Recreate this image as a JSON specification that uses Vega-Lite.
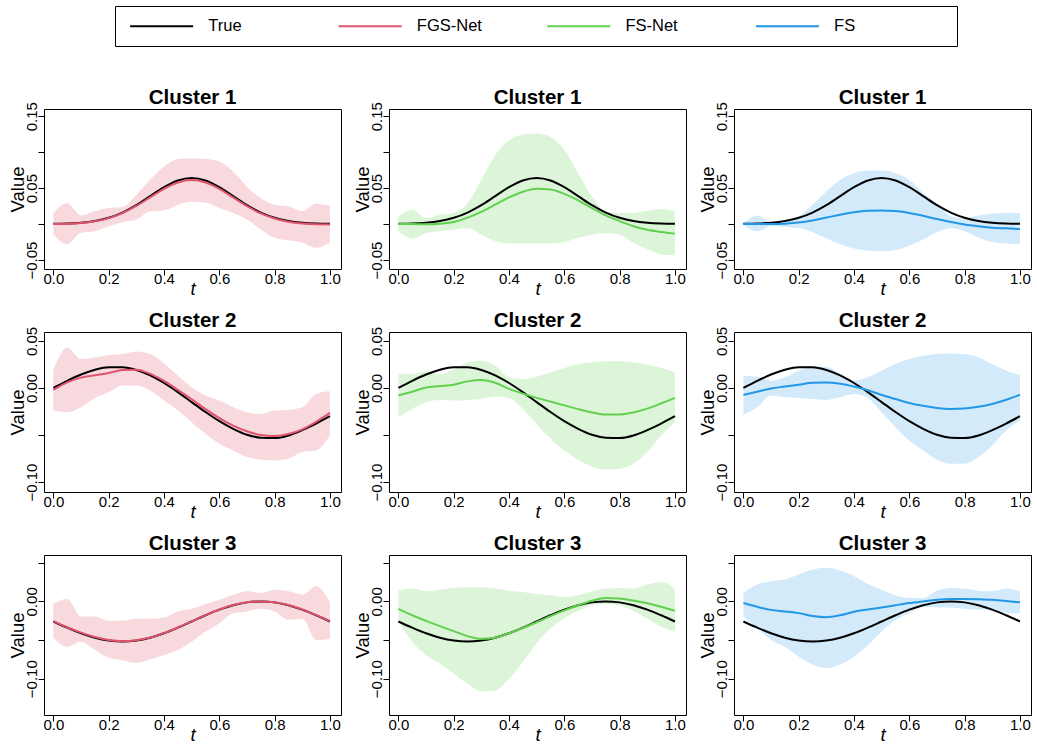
{
"$schema": "https://vega.github.io/schema/vega-lite/v6.json",
"background": "white",
"padding": {"left": 7, "top": 5, "right": 4, "bottom": 2},
"data": {"values": [
{"c":1,"m":"FGS-Net","t":0,"tr":0.0003,"e":0.0001,"lo":-0.0144,"hi":0.0155},
{"c":1,"m":"FGS-Net","t":0.05,"tr":0.0007,"e":0.0004,"lo":-0.028,"hi":0.029},
{"c":1,"m":"FGS-Net","t":0.1,"tr":0.0018,"e":0.0014,"lo":-0.012,"hi":0.012},
{"c":1,"m":"FGS-Net","t":0.15,"tr":0.0042,"e":0.0038,"lo":-0.010,"hi":0.018},
{"c":1,"m":"FGS-Net","t":0.2,"tr":0.0087,"e":0.0083,"lo":-0.003,"hi":0.0224},
{"c":1,"m":"FGS-Net","t":0.25,"tr":0.016,"e":0.0153,"lo":0.0026,"hi":0.0233},
{"c":1,"m":"FGS-Net","t":0.3,"tr":0.0263,"e":0.0252,"lo":0.0063,"hi":0.0408},
{"c":1,"m":"FGS-Net","t":0.35,"tr":0.0388,"e":0.0372,"lo":0.0178,"hi":0.0615},
{"c":1,"m":"FGS-Net","t":0.4,"tr":0.0512,"e":0.049,"lo":0.019,"hi":0.080},
{"c":1,"m":"FGS-Net","t":0.45,"tr":0.0605,"e":0.0578,"lo":0.027,"hi":0.0905},
{"c":1,"m":"FGS-Net","t":0.5,"tr":0.064,"e":0.0612,"lo":0.031,"hi":0.0914},
{"c":1,"m":"FGS-Net","t":0.55,"tr":0.0605,"e":0.0578,"lo":0.030,"hi":0.0905},
{"c":1,"m":"FGS-Net","t":0.6,"tr":0.0512,"e":0.049,"lo":0.0224,"hi":0.087},
{"c":1,"m":"FGS-Net","t":0.65,"tr":0.0388,"e":0.037,"lo":0.0155,"hi":0.073},
{"c":1,"m":"FGS-Net","t":0.7,"tr":0.0263,"e":0.0248,"lo":0.0063,"hi":0.052},
{"c":1,"m":"FGS-Net","t":0.75,"tr":0.016,"e":0.0148,"lo":-0.0075,"hi":0.036},
{"c":1,"m":"FGS-Net","t":0.8,"tr":0.0087,"e":0.0077,"lo":-0.019,"hi":0.027},
{"c":1,"m":"FGS-Net","t":0.85,"tr":0.0042,"e":0.0032,"lo":-0.0226,"hi":0.0247},
{"c":1,"m":"FGS-Net","t":0.9,"tr":0.0018,"e":0.0008,"lo":-0.026,"hi":0.018},
{"c":1,"m":"FGS-Net","t":0.95,"tr":0.0007,"e":-0.0003,"lo":-0.033,"hi":0.0284},
{"c":1,"m":"FGS-Net","t":1,"tr":0.0003,"e":-0.0005,"lo":-0.026,"hi":0.0256},
{"c":1,"m":"FS-Net","t":0,"tr":0.0003,"e":0,"lo":-0.010,"hi":0.0106},
{"c":1,"m":"FS-Net","t":0.05,"tr":0.0007,"e":0,"lo":-0.020,"hi":0.020},
{"c":1,"m":"FS-Net","t":0.1,"tr":0.0018,"e":-0.0002,"lo":-0.0124,"hi":0.0083},
{"c":1,"m":"FS-Net","t":0.15,"tr":0.0042,"e":0.0005,"lo":-0.010,"hi":0.013},
{"c":1,"m":"FS-Net","t":0.2,"tr":0.0087,"e":0.003,"lo":-0.0078,"hi":0.0155},
{"c":1,"m":"FS-Net","t":0.25,"tr":0.016,"e":0.009,"lo":-0.0055,"hi":0.029},
{"c":1,"m":"FS-Net","t":0.3,"tr":0.0263,"e":0.017,"lo":-0.0147,"hi":0.0615},
{"c":1,"m":"FS-Net","t":0.35,"tr":0.0388,"e":0.027,"lo":-0.0236,"hi":0.096},
{"c":1,"m":"FS-Net","t":0.4,"tr":0.0512,"e":0.037,"lo":-0.027,"hi":0.1167},
{"c":1,"m":"FS-Net","t":0.45,"tr":0.0605,"e":0.045,"lo":-0.027,"hi":0.1245},
{"c":1,"m":"FS-Net","t":0.5,"tr":0.064,"e":0.049,"lo":-0.027,"hi":0.126},
{"c":1,"m":"FS-Net","t":0.55,"tr":0.0605,"e":0.048,"lo":-0.027,"hi":0.121},
{"c":1,"m":"FS-Net","t":0.6,"tr":0.0512,"e":0.042,"lo":-0.025,"hi":0.103},
{"c":1,"m":"FS-Net","t":0.65,"tr":0.0388,"e":0.033,"lo":-0.019,"hi":0.0707},
{"c":1,"m":"FS-Net","t":0.7,"tr":0.0263,"e":0.022,"lo":-0.0147,"hi":0.0385},
{"c":1,"m":"FS-Net","t":0.75,"tr":0.016,"e":0.012,"lo":-0.0124,"hi":0.0175},
{"c":1,"m":"FS-Net","t":0.8,"tr":0.0087,"e":0.004,"lo":-0.0147,"hi":0.0155},
{"c":1,"m":"FS-Net","t":0.85,"tr":0.0042,"e":-0.003,"lo":-0.026,"hi":0.0155},
{"c":1,"m":"FS-Net","t":0.9,"tr":0.0018,"e":-0.008,"lo":-0.035,"hi":0.0184},
{"c":1,"m":"FS-Net","t":0.95,"tr":0.0007,"e":-0.011,"lo":-0.042,"hi":0.0211},
{"c":1,"m":"FS-Net","t":1,"tr":0.0003,"e":-0.0133,"lo":-0.0433,"hi":0.0175},
{"c":1,"m":"FS","t":0,"tr":0.0003,"e":0,"lo":-0.001,"hi":0.001},
{"c":1,"m":"FS","t":0.05,"tr":0.0007,"e":0,"lo":-0.010,"hi":0.0118},
{"c":1,"m":"FS","t":0.1,"tr":0.0018,"e":0,"lo":-0.003,"hi":0.0026},
{"c":1,"m":"FS","t":0.15,"tr":0.0042,"e":0.0005,"lo":-0.004,"hi":0.004},
{"c":1,"m":"FS","t":0.2,"tr":0.0087,"e":0.002,"lo":-0.0055,"hi":0.011},
{"c":1,"m":"FS","t":0.25,"tr":0.016,"e":0.005,"lo":-0.0115,"hi":0.027},
{"c":1,"m":"FS","t":0.3,"tr":0.0263,"e":0.009,"lo":-0.020,"hi":0.0454},
{"c":1,"m":"FS","t":0.35,"tr":0.0388,"e":0.013,"lo":-0.028,"hi":0.0615},
{"c":1,"m":"FS","t":0.4,"tr":0.0512,"e":0.0165,"lo":-0.034,"hi":0.0707},
{"c":1,"m":"FS","t":0.45,"tr":0.0605,"e":0.0185,"lo":-0.037,"hi":0.0744},
{"c":1,"m":"FS","t":0.5,"tr":0.064,"e":0.019,"lo":-0.038,"hi":0.0744},
{"c":1,"m":"FS","t":0.55,"tr":0.0605,"e":0.018,"lo":-0.036,"hi":0.0707},
{"c":1,"m":"FS","t":0.6,"tr":0.0512,"e":0.0155,"lo":-0.030,"hi":0.0615},
{"c":1,"m":"FS","t":0.65,"tr":0.0388,"e":0.0115,"lo":-0.0216,"hi":0.043},
{"c":1,"m":"FS","t":0.7,"tr":0.0263,"e":0.007,"lo":-0.0115,"hi":0.0284},
{"c":1,"m":"FS","t":0.75,"tr":0.016,"e":0.003,"lo":-0.0055,"hi":0.011},
{"c":1,"m":"FS","t":0.8,"tr":0.0087,"e":-0.0005,"lo":-0.010,"hi":0.0083},
{"c":1,"m":"FS","t":0.85,"tr":0.0042,"e":-0.003,"lo":-0.019,"hi":0.0118},
{"c":1,"m":"FS","t":0.9,"tr":0.0018,"e":-0.005,"lo":-0.025,"hi":0.0146},
{"c":1,"m":"FS","t":0.95,"tr":0.0007,"e":-0.006,"lo":-0.027,"hi":0.0155},
{"c":1,"m":"FS","t":1,"tr":0.0003,"e":-0.007,"lo":-0.028,"hi":0.0155},
{"c":2,"m":"FGS-Net","t":0,"tr":0,"e":-0.002,"lo":-0.024,"hi":0.0191},
{"c":2,"m":"FGS-Net","t":0.05,"tr":0.0076,"e":0.006,"lo":-0.0258,"hi":0.0431},
{"c":2,"m":"FGS-Net","t":0.1,"tr":0.0143,"e":0.011,"lo":-0.0205,"hi":0.0307},
{"c":2,"m":"FGS-Net","t":0.15,"tr":0.0194,"e":0.0135,"lo":-0.0106,"hi":0.0325},
{"c":2,"m":"FGS-Net","t":0.2,"tr":0.0221,"e":0.016,"lo":-0.0046,"hi":0.035},
{"c":2,"m":"FGS-Net","t":0.25,"tr":0.022,"e":0.019,"lo":0.0025,"hi":0.036},
{"c":2,"m":"FGS-Net","t":0.3,"tr":0.0191,"e":0.0195,"lo":0.0025,"hi":0.0389},
{"c":2,"m":"FGS-Net","t":0.35,"tr":0.0134,"e":0.015,"lo":-0.003,"hi":0.036},
{"c":2,"m":"FGS-Net","t":0.4,"tr":0.0053,"e":0.0075,"lo":-0.0134,"hi":0.026},
{"c":2,"m":"FGS-Net","t":0.45,"tr":-0.0044,"e":-0.002,"lo":-0.024,"hi":0.0131},
{"c":2,"m":"FGS-Net","t":0.5,"tr":-0.015,"e":-0.012,"lo":-0.0364,"hi":0.0007},
{"c":2,"m":"FGS-Net","t":0.55,"tr":-0.0256,"e":-0.0225,"lo":-0.0488,"hi":-0.0081},
{"c":2,"m":"FGS-Net","t":0.6,"tr":-0.0353,"e":-0.032,"lo":-0.0594,"hi":-0.0134},
{"c":2,"m":"FGS-Net","t":0.65,"tr":-0.0434,"e":-0.040,"lo":-0.0664,"hi":-0.0205},
{"c":2,"m":"FGS-Net","t":0.7,"tr":-0.0497,"e":-0.046,"lo":-0.0735,"hi":-0.0258},
{"c":2,"m":"FGS-Net","t":0.75,"tr":-0.0528,"e":-0.050,"lo":-0.0763,"hi":-0.0276},
{"c":2,"m":"FGS-Net","t":0.8,"tr":-0.0532,"e":-0.051,"lo":-0.077,"hi":-0.024},
{"c":2,"m":"FGS-Net","t":0.85,"tr":-0.0505,"e":-0.049,"lo":-0.0753,"hi":-0.0233},
{"c":2,"m":"FGS-Net","t":0.9,"tr":-0.0448,"e":-0.044,"lo":-0.0682,"hi":-0.0205},
{"c":2,"m":"FGS-Net","t":0.95,"tr":-0.0378,"e":-0.036,"lo":-0.0664,"hi":-0.0064},
{"c":2,"m":"FGS-Net","t":1,"tr":-0.030,"e":-0.0265,"lo":-0.0505,"hi":-0.0035},
{"c":2,"m":"FS-Net","t":0,"tr":0,"e":-0.008,"lo":-0.031,"hi":0.0155},
{"c":2,"m":"FS-Net","t":0.05,"tr":0.0076,"e":-0.004,"lo":-0.0223,"hi":0.0148},
{"c":2,"m":"FS-Net","t":0.1,"tr":0.0143,"e":0.0005,"lo":-0.0152,"hi":0.0177},
{"c":2,"m":"FS-Net","t":0.15,"tr":0.0194,"e":0.002,"lo":-0.0127,"hi":0.0148},
{"c":2,"m":"FS-Net","t":0.2,"tr":0.0221,"e":0.0035,"lo":-0.0134,"hi":0.020},
{"c":2,"m":"FS-Net","t":0.25,"tr":0.022,"e":0.007,"lo":-0.0127,"hi":0.027},
{"c":2,"m":"FS-Net","t":0.3,"tr":0.0191,"e":0.0085,"lo":-0.0117,"hi":0.029},
{"c":2,"m":"FS-Net","t":0.35,"tr":0.0134,"e":0.0055,"lo":-0.0092,"hi":0.0237},
{"c":2,"m":"FS-Net","t":0.4,"tr":0.0053,"e":-0.001,"lo":-0.0106,"hi":0.0113},
{"c":2,"m":"FS-Net","t":0.45,"tr":-0.0044,"e":-0.006,"lo":-0.0223,"hi":0.0095},
{"c":2,"m":"FS-Net","t":0.5,"tr":-0.015,"e":-0.0105,"lo":-0.0382,"hi":0.012},
{"c":2,"m":"FS-Net","t":0.55,"tr":-0.0256,"e":-0.0145,"lo":-0.054,"hi":0.0166},
{"c":2,"m":"FS-Net","t":0.6,"tr":-0.0353,"e":-0.0185,"lo":-0.0664,"hi":0.0212},
{"c":2,"m":"FS-Net","t":0.65,"tr":-0.0434,"e":-0.0225,"lo":-0.0763,"hi":0.0254},
{"c":2,"m":"FS-Net","t":0.7,"tr":-0.0497,"e":-0.026,"lo":-0.0834,"hi":0.027},
{"c":2,"m":"FS-Net","t":0.75,"tr":-0.0528,"e":-0.0283,"lo":-0.087,"hi":0.0283},
{"c":2,"m":"FS-Net","t":0.8,"tr":-0.0532,"e":-0.0283,"lo":-0.0859,"hi":0.0283},
{"c":2,"m":"FS-Net","t":0.85,"tr":-0.0505,"e":-0.026,"lo":-0.0806,"hi":0.027},
{"c":2,"m":"FS-Net","t":0.9,"tr":-0.0448,"e":-0.022,"lo":-0.0682,"hi":0.0247},
{"c":2,"m":"FS-Net","t":0.95,"tr":-0.0378,"e":-0.0165,"lo":-0.0505,"hi":0.0212},
{"c":2,"m":"FS-Net","t":1,"tr":-0.030,"e":-0.0105,"lo":-0.0364,"hi":0.0166},
{"c":2,"m":"FS","t":0,"tr":0,"e":-0.0074,"lo":-0.0283,"hi":0.0131},
{"c":2,"m":"FS","t":0.05,"tr":0.0076,"e":-0.004,"lo":-0.0205,"hi":0.012},
{"c":2,"m":"FS","t":0.1,"tr":0.0143,"e":-0.0005,"lo":-0.0081,"hi":0.0078},
{"c":2,"m":"FS","t":0.15,"tr":0.0194,"e":0.0015,"lo":-0.0099,"hi":0.0113},
{"c":2,"m":"FS","t":0.2,"tr":0.0221,"e":0.0035,"lo":-0.0106,"hi":0.0184},
{"c":2,"m":"FS","t":0.25,"tr":0.022,"e":0.0055,"lo":-0.0117,"hi":0.0226},
{"c":2,"m":"FS","t":0.3,"tr":0.0191,"e":0.0058,"lo":-0.0127,"hi":0.0226},
{"c":2,"m":"FS","t":0.35,"tr":0.0134,"e":0.0045,"lo":-0.0099,"hi":0.0148},
{"c":2,"m":"FS","t":0.4,"tr":0.0053,"e":0.0015,"lo":-0.0064,"hi":0.0078},
{"c":2,"m":"FS","t":0.45,"tr":-0.0044,"e":-0.0025,"lo":-0.0106,"hi":0.0113},
{"c":2,"m":"FS","t":0.5,"tr":-0.015,"e":-0.0075,"lo":-0.0258,"hi":0.0184},
{"c":2,"m":"FS","t":0.55,"tr":-0.0256,"e":-0.0118,"lo":-0.0417,"hi":0.0254},
{"c":2,"m":"FS","t":0.6,"tr":-0.0353,"e":-0.016,"lo":-0.0558,"hi":0.0307},
{"c":2,"m":"FS","t":0.65,"tr":-0.0434,"e":-0.019,"lo":-0.0664,"hi":0.0343},
{"c":2,"m":"FS","t":0.7,"tr":-0.0497,"e":-0.0212,"lo":-0.0763,"hi":0.036},
{"c":2,"m":"FS","t":0.75,"tr":-0.0528,"e":-0.0223,"lo":-0.0806,"hi":0.0367},
{"c":2,"m":"FS","t":0.8,"tr":-0.0532,"e":-0.0218,"lo":-0.0806,"hi":0.036},
{"c":2,"m":"FS","t":0.85,"tr":-0.0505,"e":-0.020,"lo":-0.0735,"hi":0.0325},
{"c":2,"m":"FS","t":0.9,"tr":-0.0448,"e":-0.017,"lo":-0.0611,"hi":0.0254},
{"c":2,"m":"FS","t":0.95,"tr":-0.0378,"e":-0.0125,"lo":-0.0452,"hi":0.0184},
{"c":2,"m":"FS","t":1,"tr":-0.030,"e":-0.0072,"lo":-0.0346,"hi":0.0141},
{"c":3,"m":"FGS-Net","t":0,"tr":-0.026,"e":-0.0255,"lo":-0.047,"hi":-0.0035},
{"c":3,"m":"FGS-Net","t":0.05,"tr":-0.034,"e":-0.0335,"lo":-0.0587,"hi":0.0035},
{"c":3,"m":"FGS-Net","t":0.1,"tr":-0.0413,"e":-0.0405,"lo":-0.0522,"hi":-0.0196},
{"c":3,"m":"FGS-Net","t":0.15,"tr":-0.047,"e":-0.0462,"lo":-0.063,"hi":-0.0196},
{"c":3,"m":"FGS-Net","t":0.2,"tr":-0.0507,"e":-0.050,"lo":-0.073,"hi":-0.0252},
{"c":3,"m":"FGS-Net","t":0.25,"tr":-0.052,"e":-0.0515,"lo":-0.0761,"hi":-0.0252},
{"c":3,"m":"FGS-Net","t":0.3,"tr":-0.0507,"e":-0.0503,"lo":-0.0796,"hi":-0.0226},
{"c":3,"m":"FGS-Net","t":0.35,"tr":-0.047,"e":-0.0468,"lo":-0.0748,"hi":-0.0226},
{"c":3,"m":"FGS-Net","t":0.4,"tr":-0.0413,"e":-0.041,"lo":-0.0696,"hi":-0.0209},
{"c":3,"m":"FGS-Net","t":0.45,"tr":-0.034,"e":-0.0338,"lo":-0.063,"hi":-0.013},
{"c":3,"m":"FGS-Net","t":0.5,"tr":-0.026,"e":-0.0258,"lo":-0.0522,"hi":-0.0096},
{"c":3,"m":"FGS-Net","t":0.55,"tr":-0.018,"e":-0.0178,"lo":-0.0391,"hi":-0.0035},
{"c":3,"m":"FGS-Net","t":0.6,"tr":-0.0107,"e":-0.0105,"lo":-0.0283,"hi":0.0022},
{"c":3,"m":"FGS-Net","t":0.65,"tr":-0.005,"e":-0.0048,"lo":-0.0152,"hi":0.0087},
{"c":3,"m":"FGS-Net","t":0.7,"tr":-0.0013,"e":-0.0012,"lo":-0.013,"hi":0.013},
{"c":3,"m":"FGS-Net","t":0.75,"tr":0,"e":0,"lo":-0.0096,"hi":0.0109},
{"c":3,"m":"FGS-Net","t":0.8,"tr":-0.0013,"e":-0.0012,"lo":-0.013,"hi":0.0152},
{"c":3,"m":"FGS-Net","t":0.85,"tr":-0.005,"e":-0.0048,"lo":-0.0239,"hi":0.013},
{"c":3,"m":"FGS-Net","t":0.9,"tr":-0.0107,"e":-0.0104,"lo":-0.0226,"hi":0.0087},
{"c":3,"m":"FGS-Net","t":0.95,"tr":-0.018,"e":-0.0177,"lo":-0.050,"hi":0.0196},
{"c":3,"m":"FGS-Net","t":1,"tr":-0.026,"e":-0.0256,"lo":-0.0487,"hi":-0.0009},
{"c":3,"m":"FS-Net","t":0,"tr":-0.026,"e":-0.0096,"lo":-0.0261,"hi":0.0139},
{"c":3,"m":"FS-Net","t":0.05,"tr":-0.034,"e":-0.018,"lo":-0.0522,"hi":0.0165},
{"c":3,"m":"FS-Net","t":0.1,"tr":-0.0413,"e":-0.0252,"lo":-0.0696,"hi":0.013},
{"c":3,"m":"FS-Net","t":0.15,"tr":-0.047,"e":-0.032,"lo":-0.0804,"hi":0.0152},
{"c":3,"m":"FS-Net","t":0.2,"tr":-0.0507,"e":-0.0385,"lo":-0.0935,"hi":0.0174},
{"c":3,"m":"FS-Net","t":0.25,"tr":-0.052,"e":-0.045,"lo":-0.1065,"hi":0.0183},
{"c":3,"m":"FS-Net","t":0.3,"tr":-0.0507,"e":-0.0485,"lo":-0.1165,"hi":0.0183},
{"c":3,"m":"FS-Net","t":0.35,"tr":-0.047,"e":-0.047,"lo":-0.1152,"hi":0.0165},
{"c":3,"m":"FS-Net","t":0.4,"tr":-0.0413,"e":-0.0413,"lo":-0.10,"hi":0.0139},
{"c":3,"m":"FS-Net","t":0.45,"tr":-0.034,"e":-0.0345,"lo":-0.0783,"hi":0.0122},
{"c":3,"m":"FS-Net","t":0.5,"tr":-0.026,"e":-0.027,"lo":-0.0543,"hi":0.0096},
{"c":3,"m":"FS-Net","t":0.55,"tr":-0.018,"e":-0.019,"lo":-0.0348,"hi":0.0078},
{"c":3,"m":"FS-Net","t":0.6,"tr":-0.0107,"e":-0.0117,"lo":-0.0217,"hi":0.0057},
{"c":3,"m":"FS-Net","t":0.65,"tr":-0.005,"e":-0.005,"lo":-0.0122,"hi":0.0078},
{"c":3,"m":"FS-Net","t":0.7,"tr":-0.0013,"e":0.0009,"lo":-0.0052,"hi":0.013},
{"c":3,"m":"FS-Net","t":0.75,"tr":0,"e":0.0043,"lo":-0.0035,"hi":0.0165},
{"c":3,"m":"FS-Net","t":0.8,"tr":-0.0013,"e":0.0038,"lo":-0.0052,"hi":0.0174},
{"c":3,"m":"FS-Net","t":0.85,"tr":-0.005,"e":0.001,"lo":-0.0122,"hi":0.0165},
{"c":3,"m":"FS-Net","t":0.9,"tr":-0.0107,"e":-0.0025,"lo":-0.0226,"hi":0.0217},
{"c":3,"m":"FS-Net","t":0.95,"tr":-0.018,"e":-0.007,"lo":-0.0326,"hi":0.0252},
{"c":3,"m":"FS-Net","t":1,"tr":-0.026,"e":-0.0122,"lo":-0.0391,"hi":0.0165},
{"c":3,"m":"FS","t":0,"tr":-0.026,"e":-0.0022,"lo":-0.0196,"hi":0.0109},
{"c":3,"m":"FS","t":0.05,"tr":-0.034,"e":-0.007,"lo":-0.0348,"hi":0.0217},
{"c":3,"m":"FS","t":0.1,"tr":-0.0413,"e":-0.011,"lo":-0.050,"hi":0.0261},
{"c":3,"m":"FS","t":0.15,"tr":-0.047,"e":-0.013,"lo":-0.0587,"hi":0.0283},
{"c":3,"m":"FS","t":0.2,"tr":-0.0507,"e":-0.0152,"lo":-0.0717,"hi":0.0348},
{"c":3,"m":"FS","t":0.25,"tr":-0.052,"e":-0.019,"lo":-0.0817,"hi":0.0413},
{"c":3,"m":"FS","t":0.3,"tr":-0.0507,"e":-0.0205,"lo":-0.0861,"hi":0.0435},
{"c":3,"m":"FS","t":0.35,"tr":-0.047,"e":-0.018,"lo":-0.0817,"hi":0.040},
{"c":3,"m":"FS","t":0.4,"tr":-0.0413,"e":-0.0135,"lo":-0.0717,"hi":0.0326},
{"c":3,"m":"FS","t":0.45,"tr":-0.034,"e":-0.0105,"lo":-0.0565,"hi":0.0226},
{"c":3,"m":"FS","t":0.5,"tr":-0.026,"e":-0.008,"lo":-0.0391,"hi":0.0152},
{"c":3,"m":"FS","t":0.55,"tr":-0.018,"e":-0.005,"lo":-0.0239,"hi":0.0078},
{"c":3,"m":"FS","t":0.6,"tr":-0.0107,"e":-0.0022,"lo":-0.0152,"hi":0.0043},
{"c":3,"m":"FS","t":0.65,"tr":-0.005,"e":0,"lo":-0.0065,"hi":0.0043},
{"c":3,"m":"FS","t":0.7,"tr":-0.0013,"e":0.002,"lo":-0.0078,"hi":0.0139},
{"c":3,"m":"FS","t":0.75,"tr":0,"e":0.003,"lo":-0.0078,"hi":0.0174},
{"c":3,"m":"FS","t":0.8,"tr":-0.0013,"e":0.003,"lo":-0.0096,"hi":0.0165},
{"c":3,"m":"FS","t":0.85,"tr":-0.005,"e":0.0027,"lo":-0.0109,"hi":0.0139},
{"c":3,"m":"FS","t":0.9,"tr":-0.0107,"e":0.002,"lo":-0.0096,"hi":0.013},
{"c":3,"m":"FS","t":0.95,"tr":-0.018,"e":0.0005,"lo":-0.0152,"hi":0.0165},
{"c":3,"m":"FS","t":1,"tr":-0.026,"e":-0.0013,"lo":-0.0152,"hi":0.013}
]},
"columns": 3,
"spacing": {"row": 63, "column": 48},
"bounds": "flush",
"resolve": {"scale": {"x": "independent", "y": "independent", "color": "shared"}, "legend": {"color": "shared"}},
"concat": [
{"title": {"text": "Cluster 1", "offset": -7}, "width": 297, "height": 160,
 "transform": [{"filter": "datum.c == 1 && datum.m == 'FGS-Net'"}],
 "encoding": {"x": {"field": "t", "type": "quantitative", "scale": {"domain": [-0.034, 1.04], "nice": false, "zero": false}, "axis": {"title": "t", "values": [0, 0.2, 0.4, 0.6, 0.8, 1], "format": ".1f"}}},
 "layer": [
  {"mark": {"type": "area", "color": "#DF536B", "opacity": 0.22, "interpolate": "monotone"},
   "encoding": {"y": {"field": "lo", "type": "quantitative", "scale": {"domain": [-0.0625, 0.16], "nice": false, "zero": false}, "axis": {"title": "Value", "values": [-0.05, 0, 0.05, 0.1, 0.15], "format": ".2f", "labelExpr": "round(datum.value*100) % 10 != 0 ? datum.label : ''"}}, "y2": {"field": "hi"}}},
  {"mark": {"type": "line", "strokeWidth": 2, "interpolate": "monotone"},
   "encoding": {"y": {"field": "tr", "type": "quantitative", "scale": {"domain": [-0.0625, 0.16], "nice": false, "zero": false}, "axis": {"title": "Value", "values": [-0.05, 0, 0.05, 0.1, 0.15], "format": ".2f", "labelExpr": "round(datum.value*100) % 10 != 0 ? datum.label : ''"}},
    "color": {"datum": "True", "type": "nominal", "scale": {"domain": ["True", "FGS-Net", "FS-Net", "FS"], "range": ["#000000", "#DF536B", "#61D04F", "#2297E6"]}, "legend": {"title": null, "orient": "none", "legendX": 71, "legendY": -103, "columns": 4, "gridAlign": "all", "columnPadding": 14.6, "symbolType": "M-0.62,0H7.38", "symbolSize": 248, "symbolStrokeWidth": 2, "labelFontSize": 16.5, "labelOffset": 64.25, "padding": 11, "strokeColor": "#000000", "labelExpr": "datum.label == 'FS' ? 'FS\u00a0\u00a0\u00a0\u00a0\u00a0\u00a0\u00a0\u00a0\u00a0\u00a0\u00a0\u00a0\u00a0\u00a0\u00a0\u00a0\u00a0\u00a0\u00a0\u2009\u200b' : datum.label"}}}},
  {"mark": {"type": "line", "strokeWidth": 2, "interpolate": "monotone"},
   "encoding": {"y": {"field": "e", "type": "quantitative", "scale": {"domain": [-0.0625, 0.16], "nice": false, "zero": false}, "axis": {"title": "Value", "values": [-0.05, 0, 0.05, 0.1, 0.15], "format": ".2f", "labelExpr": "round(datum.value*100) % 10 != 0 ? datum.label : ''"}},
    "color": {"field": "m", "type": "nominal", "scale": {"domain": ["True", "FGS-Net", "FS-Net", "FS"], "range": ["#000000", "#DF536B", "#61D04F", "#2297E6"]}, "legend": {"title": null, "orient": "none", "legendX": 71, "legendY": -103, "columns": 4, "gridAlign": "all", "columnPadding": 14.6, "symbolType": "M-0.62,0H7.38", "symbolSize": 248, "symbolStrokeWidth": 2, "labelFontSize": 16.5, "labelOffset": 64.25, "padding": 11, "strokeColor": "#000000", "labelExpr": "datum.label == 'FS' ? 'FS\u00a0\u00a0\u00a0\u00a0\u00a0\u00a0\u00a0\u00a0\u00a0\u00a0\u00a0\u00a0\u00a0\u00a0\u00a0\u00a0\u00a0\u00a0\u00a0\u2009\u200b' : datum.label"}}}}
 ]},
{"title": {"text": "Cluster 1", "offset": -7}, "width": 297, "height": 160,
 "transform": [{"filter": "datum.c == 1 && datum.m == 'FS-Net'"}],
 "encoding": {"x": {"field": "t", "type": "quantitative", "scale": {"domain": [-0.034, 1.04], "nice": false, "zero": false}, "axis": {"title": "t", "values": [0, 0.2, 0.4, 0.6, 0.8, 1], "format": ".1f"}}},
 "layer": [
  {"mark": {"type": "area", "color": "#61D04F", "opacity": 0.22, "interpolate": "monotone"},
   "encoding": {"y": {"field": "lo", "type": "quantitative", "scale": {"domain": [-0.0625, 0.16], "nice": false, "zero": false}, "axis": {"title": "Value", "values": [-0.05, 0, 0.05, 0.1, 0.15], "format": ".2f", "labelExpr": "round(datum.value*100) % 10 != 0 ? datum.label : ''"}}, "y2": {"field": "hi"}}},
  {"mark": {"type": "line", "strokeWidth": 2, "interpolate": "monotone"},
   "encoding": {"y": {"field": "tr", "type": "quantitative", "scale": {"domain": [-0.0625, 0.16], "nice": false, "zero": false}, "axis": {"title": "Value", "values": [-0.05, 0, 0.05, 0.1, 0.15], "format": ".2f", "labelExpr": "round(datum.value*100) % 10 != 0 ? datum.label : ''"}},
    "color": {"datum": "True", "type": "nominal", "scale": {"domain": ["True", "FGS-Net", "FS-Net", "FS"], "range": ["#000000", "#DF536B", "#61D04F", "#2297E6"]}, "legend": {"title": null, "orient": "none", "legendX": 71, "legendY": -103, "columns": 4, "gridAlign": "all", "columnPadding": 14.6, "symbolType": "M-0.62,0H7.38", "symbolSize": 248, "symbolStrokeWidth": 2, "labelFontSize": 16.5, "labelOffset": 64.25, "padding": 11, "strokeColor": "#000000", "labelExpr": "datum.label == 'FS' ? 'FS\u00a0\u00a0\u00a0\u00a0\u00a0\u00a0\u00a0\u00a0\u00a0\u00a0\u00a0\u00a0\u00a0\u00a0\u00a0\u00a0\u00a0\u00a0\u00a0\u2009\u200b' : datum.label"}}}},
  {"mark": {"type": "line", "strokeWidth": 2, "interpolate": "monotone"},
   "encoding": {"y": {"field": "e", "type": "quantitative", "scale": {"domain": [-0.0625, 0.16], "nice": false, "zero": false}, "axis": {"title": "Value", "values": [-0.05, 0, 0.05, 0.1, 0.15], "format": ".2f", "labelExpr": "round(datum.value*100) % 10 != 0 ? datum.label : ''"}},
    "color": {"field": "m", "type": "nominal", "scale": {"domain": ["True", "FGS-Net", "FS-Net", "FS"], "range": ["#000000", "#DF536B", "#61D04F", "#2297E6"]}, "legend": {"title": null, "orient": "none", "legendX": 71, "legendY": -103, "columns": 4, "gridAlign": "all", "columnPadding": 14.6, "symbolType": "M-0.62,0H7.38", "symbolSize": 248, "symbolStrokeWidth": 2, "labelFontSize": 16.5, "labelOffset": 64.25, "padding": 11, "strokeColor": "#000000", "labelExpr": "datum.label == 'FS' ? 'FS\u00a0\u00a0\u00a0\u00a0\u00a0\u00a0\u00a0\u00a0\u00a0\u00a0\u00a0\u00a0\u00a0\u00a0\u00a0\u00a0\u00a0\u00a0\u00a0\u2009\u200b' : datum.label"}}}}
 ]},
{"title": {"text": "Cluster 1", "offset": -7}, "width": 297, "height": 160,
 "transform": [{"filter": "datum.c == 1 && datum.m == 'FS'"}],
 "encoding": {"x": {"field": "t", "type": "quantitative", "scale": {"domain": [-0.034, 1.04], "nice": false, "zero": false}, "axis": {"title": "t", "values": [0, 0.2, 0.4, 0.6, 0.8, 1], "format": ".1f"}}},
 "layer": [
  {"mark": {"type": "area", "color": "#2297E6", "opacity": 0.2, "interpolate": "monotone"},
   "encoding": {"y": {"field": "lo", "type": "quantitative", "scale": {"domain": [-0.0625, 0.16], "nice": false, "zero": false}, "axis": {"title": "Value", "values": [-0.05, 0, 0.05, 0.1, 0.15], "format": ".2f", "labelExpr": "round(datum.value*100) % 10 != 0 ? datum.label : ''"}}, "y2": {"field": "hi"}}},
  {"mark": {"type": "line", "strokeWidth": 2, "interpolate": "monotone"},
   "encoding": {"y": {"field": "tr", "type": "quantitative", "scale": {"domain": [-0.0625, 0.16], "nice": false, "zero": false}, "axis": {"title": "Value", "values": [-0.05, 0, 0.05, 0.1, 0.15], "format": ".2f", "labelExpr": "round(datum.value*100) % 10 != 0 ? datum.label : ''"}},
    "color": {"datum": "True", "type": "nominal", "scale": {"domain": ["True", "FGS-Net", "FS-Net", "FS"], "range": ["#000000", "#DF536B", "#61D04F", "#2297E6"]}, "legend": {"title": null, "orient": "none", "legendX": 71, "legendY": -103, "columns": 4, "gridAlign": "all", "columnPadding": 14.6, "symbolType": "M-0.62,0H7.38", "symbolSize": 248, "symbolStrokeWidth": 2, "labelFontSize": 16.5, "labelOffset": 64.25, "padding": 11, "strokeColor": "#000000", "labelExpr": "datum.label == 'FS' ? 'FS\u00a0\u00a0\u00a0\u00a0\u00a0\u00a0\u00a0\u00a0\u00a0\u00a0\u00a0\u00a0\u00a0\u00a0\u00a0\u00a0\u00a0\u00a0\u00a0\u2009\u200b' : datum.label"}}}},
  {"mark": {"type": "line", "strokeWidth": 2, "interpolate": "monotone"},
   "encoding": {"y": {"field": "e", "type": "quantitative", "scale": {"domain": [-0.0625, 0.16], "nice": false, "zero": false}, "axis": {"title": "Value", "values": [-0.05, 0, 0.05, 0.1, 0.15], "format": ".2f", "labelExpr": "round(datum.value*100) % 10 != 0 ? datum.label : ''"}},
    "color": {"field": "m", "type": "nominal", "scale": {"domain": ["True", "FGS-Net", "FS-Net", "FS"], "range": ["#000000", "#DF536B", "#61D04F", "#2297E6"]}, "legend": {"title": null, "orient": "none", "legendX": 71, "legendY": -103, "columns": 4, "gridAlign": "all", "columnPadding": 14.6, "symbolType": "M-0.62,0H7.38", "symbolSize": 248, "symbolStrokeWidth": 2, "labelFontSize": 16.5, "labelOffset": 64.25, "padding": 11, "strokeColor": "#000000", "labelExpr": "datum.label == 'FS' ? 'FS\u00a0\u00a0\u00a0\u00a0\u00a0\u00a0\u00a0\u00a0\u00a0\u00a0\u00a0\u00a0\u00a0\u00a0\u00a0\u00a0\u00a0\u00a0\u00a0\u2009\u200b' : datum.label"}}}}
 ]},
{"title": {"text": "Cluster 2", "offset": -5}, "width": 297, "height": 160,
 "transform": [{"filter": "datum.c == 2 && datum.m == 'FGS-Net'"}],
 "encoding": {"x": {"field": "t", "type": "quantitative", "scale": {"domain": [-0.034, 1.04], "nice": false, "zero": false}, "axis": {"title": "t", "values": [0, 0.2, 0.4, 0.6, 0.8, 1], "format": ".1f"}}},
 "layer": [
  {"mark": {"type": "area", "color": "#DF536B", "opacity": 0.22, "interpolate": "monotone"},
   "encoding": {"y": {"field": "lo", "type": "quantitative", "scale": {"domain": [-0.1106, 0.0595], "nice": false, "zero": false}, "axis": {"title": "Value", "values": [-0.1, -0.05, 0, 0.05], "format": ".2f", "labelExpr": "round(datum.value*100) == -5 ? '' : datum.label"}}, "y2": {"field": "hi"}}},
  {"mark": {"type": "line", "strokeWidth": 2, "interpolate": "monotone"},
   "encoding": {"y": {"field": "tr", "type": "quantitative", "scale": {"domain": [-0.1106, 0.0595], "nice": false, "zero": false}, "axis": {"title": "Value", "values": [-0.1, -0.05, 0, 0.05], "format": ".2f", "labelExpr": "round(datum.value*100) == -5 ? '' : datum.label"}},
    "color": {"datum": "True", "type": "nominal", "scale": {"domain": ["True", "FGS-Net", "FS-Net", "FS"], "range": ["#000000", "#DF536B", "#61D04F", "#2297E6"]}, "legend": {"title": null, "orient": "none", "legendX": 71, "legendY": -103, "columns": 4, "gridAlign": "all", "columnPadding": 14.6, "symbolType": "M-0.62,0H7.38", "symbolSize": 248, "symbolStrokeWidth": 2, "labelFontSize": 16.5, "labelOffset": 64.25, "padding": 11, "strokeColor": "#000000", "labelExpr": "datum.label == 'FS' ? 'FS\u00a0\u00a0\u00a0\u00a0\u00a0\u00a0\u00a0\u00a0\u00a0\u00a0\u00a0\u00a0\u00a0\u00a0\u00a0\u00a0\u00a0\u00a0\u00a0\u2009\u200b' : datum.label"}}}},
  {"mark": {"type": "line", "strokeWidth": 2, "interpolate": "monotone"},
   "encoding": {"y": {"field": "e", "type": "quantitative", "scale": {"domain": [-0.1106, 0.0595], "nice": false, "zero": false}, "axis": {"title": "Value", "values": [-0.1, -0.05, 0, 0.05], "format": ".2f", "labelExpr": "round(datum.value*100) == -5 ? '' : datum.label"}},
    "color": {"field": "m", "type": "nominal", "scale": {"domain": ["True", "FGS-Net", "FS-Net", "FS"], "range": ["#000000", "#DF536B", "#61D04F", "#2297E6"]}, "legend": {"title": null, "orient": "none", "legendX": 71, "legendY": -103, "columns": 4, "gridAlign": "all", "columnPadding": 14.6, "symbolType": "M-0.62,0H7.38", "symbolSize": 248, "symbolStrokeWidth": 2, "labelFontSize": 16.5, "labelOffset": 64.25, "padding": 11, "strokeColor": "#000000", "labelExpr": "datum.label == 'FS' ? 'FS\u00a0\u00a0\u00a0\u00a0\u00a0\u00a0\u00a0\u00a0\u00a0\u00a0\u00a0\u00a0\u00a0\u00a0\u00a0\u00a0\u00a0\u00a0\u00a0\u2009\u200b' : datum.label"}}}}
 ]},
{"title": {"text": "Cluster 2", "offset": -5}, "width": 297, "height": 160,
 "transform": [{"filter": "datum.c == 2 && datum.m == 'FS-Net'"}],
 "encoding": {"x": {"field": "t", "type": "quantitative", "scale": {"domain": [-0.034, 1.04], "nice": false, "zero": false}, "axis": {"title": "t", "values": [0, 0.2, 0.4, 0.6, 0.8, 1], "format": ".1f"}}},
 "layer": [
  {"mark": {"type": "area", "color": "#61D04F", "opacity": 0.22, "interpolate": "monotone"},
   "encoding": {"y": {"field": "lo", "type": "quantitative", "scale": {"domain": [-0.1106, 0.0595], "nice": false, "zero": false}, "axis": {"title": "Value", "values": [-0.1, -0.05, 0, 0.05], "format": ".2f", "labelExpr": "round(datum.value*100) == -5 ? '' : datum.label"}}, "y2": {"field": "hi"}}},
  {"mark": {"type": "line", "strokeWidth": 2, "interpolate": "monotone"},
   "encoding": {"y": {"field": "tr", "type": "quantitative", "scale": {"domain": [-0.1106, 0.0595], "nice": false, "zero": false}, "axis": {"title": "Value", "values": [-0.1, -0.05, 0, 0.05], "format": ".2f", "labelExpr": "round(datum.value*100) == -5 ? '' : datum.label"}},
    "color": {"datum": "True", "type": "nominal", "scale": {"domain": ["True", "FGS-Net", "FS-Net", "FS"], "range": ["#000000", "#DF536B", "#61D04F", "#2297E6"]}, "legend": {"title": null, "orient": "none", "legendX": 71, "legendY": -103, "columns": 4, "gridAlign": "all", "columnPadding": 14.6, "symbolType": "M-0.62,0H7.38", "symbolSize": 248, "symbolStrokeWidth": 2, "labelFontSize": 16.5, "labelOffset": 64.25, "padding": 11, "strokeColor": "#000000", "labelExpr": "datum.label == 'FS' ? 'FS\u00a0\u00a0\u00a0\u00a0\u00a0\u00a0\u00a0\u00a0\u00a0\u00a0\u00a0\u00a0\u00a0\u00a0\u00a0\u00a0\u00a0\u00a0\u00a0\u2009\u200b' : datum.label"}}}},
  {"mark": {"type": "line", "strokeWidth": 2, "interpolate": "monotone"},
   "encoding": {"y": {"field": "e", "type": "quantitative", "scale": {"domain": [-0.1106, 0.0595], "nice": false, "zero": false}, "axis": {"title": "Value", "values": [-0.1, -0.05, 0, 0.05], "format": ".2f", "labelExpr": "round(datum.value*100) == -5 ? '' : datum.label"}},
    "color": {"field": "m", "type": "nominal", "scale": {"domain": ["True", "FGS-Net", "FS-Net", "FS"], "range": ["#000000", "#DF536B", "#61D04F", "#2297E6"]}, "legend": {"title": null, "orient": "none", "legendX": 71, "legendY": -103, "columns": 4, "gridAlign": "all", "columnPadding": 14.6, "symbolType": "M-0.62,0H7.38", "symbolSize": 248, "symbolStrokeWidth": 2, "labelFontSize": 16.5, "labelOffset": 64.25, "padding": 11, "strokeColor": "#000000", "labelExpr": "datum.label == 'FS' ? 'FS\u00a0\u00a0\u00a0\u00a0\u00a0\u00a0\u00a0\u00a0\u00a0\u00a0\u00a0\u00a0\u00a0\u00a0\u00a0\u00a0\u00a0\u00a0\u00a0\u2009\u200b' : datum.label"}}}}
 ]},
{"title": {"text": "Cluster 2", "offset": -5}, "width": 297, "height": 160,
 "transform": [{"filter": "datum.c == 2 && datum.m == 'FS'"}],
 "encoding": {"x": {"field": "t", "type": "quantitative", "scale": {"domain": [-0.034, 1.04], "nice": false, "zero": false}, "axis": {"title": "t", "values": [0, 0.2, 0.4, 0.6, 0.8, 1], "format": ".1f"}}},
 "layer": [
  {"mark": {"type": "area", "color": "#2297E6", "opacity": 0.2, "interpolate": "monotone"},
   "encoding": {"y": {"field": "lo", "type": "quantitative", "scale": {"domain": [-0.1106, 0.0595], "nice": false, "zero": false}, "axis": {"title": "Value", "values": [-0.1, -0.05, 0, 0.05], "format": ".2f", "labelExpr": "round(datum.value*100) == -5 ? '' : datum.label"}}, "y2": {"field": "hi"}}},
  {"mark": {"type": "line", "strokeWidth": 2, "interpolate": "monotone"},
   "encoding": {"y": {"field": "tr", "type": "quantitative", "scale": {"domain": [-0.1106, 0.0595], "nice": false, "zero": false}, "axis": {"title": "Value", "values": [-0.1, -0.05, 0, 0.05], "format": ".2f", "labelExpr": "round(datum.value*100) == -5 ? '' : datum.label"}},
    "color": {"datum": "True", "type": "nominal", "scale": {"domain": ["True", "FGS-Net", "FS-Net", "FS"], "range": ["#000000", "#DF536B", "#61D04F", "#2297E6"]}, "legend": {"title": null, "orient": "none", "legendX": 71, "legendY": -103, "columns": 4, "gridAlign": "all", "columnPadding": 14.6, "symbolType": "M-0.62,0H7.38", "symbolSize": 248, "symbolStrokeWidth": 2, "labelFontSize": 16.5, "labelOffset": 64.25, "padding": 11, "strokeColor": "#000000", "labelExpr": "datum.label == 'FS' ? 'FS\u00a0\u00a0\u00a0\u00a0\u00a0\u00a0\u00a0\u00a0\u00a0\u00a0\u00a0\u00a0\u00a0\u00a0\u00a0\u00a0\u00a0\u00a0\u00a0\u2009\u200b' : datum.label"}}}},
  {"mark": {"type": "line", "strokeWidth": 2, "interpolate": "monotone"},
   "encoding": {"y": {"field": "e", "type": "quantitative", "scale": {"domain": [-0.1106, 0.0595], "nice": false, "zero": false}, "axis": {"title": "Value", "values": [-0.1, -0.05, 0, 0.05], "format": ".2f", "labelExpr": "round(datum.value*100) == -5 ? '' : datum.label"}},
    "color": {"field": "m", "type": "nominal", "scale": {"domain": ["True", "FGS-Net", "FS-Net", "FS"], "range": ["#000000", "#DF536B", "#61D04F", "#2297E6"]}, "legend": {"title": null, "orient": "none", "legendX": 71, "legendY": -103, "columns": 4, "gridAlign": "all", "columnPadding": 14.6, "symbolType": "M-0.62,0H7.38", "symbolSize": 248, "symbolStrokeWidth": 2, "labelFontSize": 16.5, "labelOffset": 64.25, "padding": 11, "strokeColor": "#000000", "labelExpr": "datum.label == 'FS' ? 'FS\u00a0\u00a0\u00a0\u00a0\u00a0\u00a0\u00a0\u00a0\u00a0\u00a0\u00a0\u00a0\u00a0\u00a0\u00a0\u00a0\u00a0\u00a0\u00a0\u2009\u200b' : datum.label"}}}}
 ]},
{"title": {"text": "Cluster 3", "offset": 1}, "width": 297, "height": 160,
 "transform": [{"filter": "datum.c == 3 && datum.m == 'FGS-Net'"}],
 "encoding": {"x": {"field": "t", "type": "quantitative", "scale": {"domain": [-0.034, 1.04], "nice": false, "zero": false}, "axis": {"title": "t", "values": [0, 0.2, 0.4, 0.6, 0.8, 1], "format": ".1f"}}},
 "layer": [
  {"mark": {"type": "area", "color": "#DF536B", "opacity": 0.22, "interpolate": "monotone"},
   "encoding": {"y": {"field": "lo", "type": "quantitative", "scale": {"domain": [-0.147, 0.06], "nice": false, "zero": false}, "axis": {"title": "Value", "values": [-0.1, -0.05, 0, 0.05], "format": ".2f", "labelExpr": "round(datum.value*100) % 10 == 0 ? datum.label : ''"}}, "y2": {"field": "hi"}}},
  {"mark": {"type": "line", "strokeWidth": 2, "interpolate": "monotone"},
   "encoding": {"y": {"field": "tr", "type": "quantitative", "scale": {"domain": [-0.147, 0.06], "nice": false, "zero": false}, "axis": {"title": "Value", "values": [-0.1, -0.05, 0, 0.05], "format": ".2f", "labelExpr": "round(datum.value*100) % 10 == 0 ? datum.label : ''"}},
    "color": {"datum": "True", "type": "nominal", "scale": {"domain": ["True", "FGS-Net", "FS-Net", "FS"], "range": ["#000000", "#DF536B", "#61D04F", "#2297E6"]}, "legend": {"title": null, "orient": "none", "legendX": 71, "legendY": -103, "columns": 4, "gridAlign": "all", "columnPadding": 14.6, "symbolType": "M-0.62,0H7.38", "symbolSize": 248, "symbolStrokeWidth": 2, "labelFontSize": 16.5, "labelOffset": 64.25, "padding": 11, "strokeColor": "#000000", "labelExpr": "datum.label == 'FS' ? 'FS\u00a0\u00a0\u00a0\u00a0\u00a0\u00a0\u00a0\u00a0\u00a0\u00a0\u00a0\u00a0\u00a0\u00a0\u00a0\u00a0\u00a0\u00a0\u00a0\u2009\u200b' : datum.label"}}}},
  {"mark": {"type": "line", "strokeWidth": 2, "interpolate": "monotone"},
   "encoding": {"y": {"field": "e", "type": "quantitative", "scale": {"domain": [-0.147, 0.06], "nice": false, "zero": false}, "axis": {"title": "Value", "values": [-0.1, -0.05, 0, 0.05], "format": ".2f", "labelExpr": "round(datum.value*100) % 10 == 0 ? datum.label : ''"}},
    "color": {"field": "m", "type": "nominal", "scale": {"domain": ["True", "FGS-Net", "FS-Net", "FS"], "range": ["#000000", "#DF536B", "#61D04F", "#2297E6"]}, "legend": {"title": null, "orient": "none", "legendX": 71, "legendY": -103, "columns": 4, "gridAlign": "all", "columnPadding": 14.6, "symbolType": "M-0.62,0H7.38", "symbolSize": 248, "symbolStrokeWidth": 2, "labelFontSize": 16.5, "labelOffset": 64.25, "padding": 11, "strokeColor": "#000000", "labelExpr": "datum.label == 'FS' ? 'FS\u00a0\u00a0\u00a0\u00a0\u00a0\u00a0\u00a0\u00a0\u00a0\u00a0\u00a0\u00a0\u00a0\u00a0\u00a0\u00a0\u00a0\u00a0\u00a0\u2009\u200b' : datum.label"}}}}
 ]},
{"title": {"text": "Cluster 3", "offset": 1}, "width": 297, "height": 160,
 "transform": [{"filter": "datum.c == 3 && datum.m == 'FS-Net'"}],
 "encoding": {"x": {"field": "t", "type": "quantitative", "scale": {"domain": [-0.034, 1.04], "nice": false, "zero": false}, "axis": {"title": "t", "values": [0, 0.2, 0.4, 0.6, 0.8, 1], "format": ".1f"}}},
 "layer": [
  {"mark": {"type": "area", "color": "#61D04F", "opacity": 0.22, "interpolate": "monotone"},
   "encoding": {"y": {"field": "lo", "type": "quantitative", "scale": {"domain": [-0.147, 0.06], "nice": false, "zero": false}, "axis": {"title": "Value", "values": [-0.1, -0.05, 0, 0.05], "format": ".2f", "labelExpr": "round(datum.value*100) % 10 == 0 ? datum.label : ''"}}, "y2": {"field": "hi"}}},
  {"mark": {"type": "line", "strokeWidth": 2, "interpolate": "monotone"},
   "encoding": {"y": {"field": "tr", "type": "quantitative", "scale": {"domain": [-0.147, 0.06], "nice": false, "zero": false}, "axis": {"title": "Value", "values": [-0.1, -0.05, 0, 0.05], "format": ".2f", "labelExpr": "round(datum.value*100) % 10 == 0 ? datum.label : ''"}},
    "color": {"datum": "True", "type": "nominal", "scale": {"domain": ["True", "FGS-Net", "FS-Net", "FS"], "range": ["#000000", "#DF536B", "#61D04F", "#2297E6"]}, "legend": {"title": null, "orient": "none", "legendX": 71, "legendY": -103, "columns": 4, "gridAlign": "all", "columnPadding": 14.6, "symbolType": "M-0.62,0H7.38", "symbolSize": 248, "symbolStrokeWidth": 2, "labelFontSize": 16.5, "labelOffset": 64.25, "padding": 11, "strokeColor": "#000000", "labelExpr": "datum.label == 'FS' ? 'FS\u00a0\u00a0\u00a0\u00a0\u00a0\u00a0\u00a0\u00a0\u00a0\u00a0\u00a0\u00a0\u00a0\u00a0\u00a0\u00a0\u00a0\u00a0\u00a0\u2009\u200b' : datum.label"}}}},
  {"mark": {"type": "line", "strokeWidth": 2, "interpolate": "monotone"},
   "encoding": {"y": {"field": "e", "type": "quantitative", "scale": {"domain": [-0.147, 0.06], "nice": false, "zero": false}, "axis": {"title": "Value", "values": [-0.1, -0.05, 0, 0.05], "format": ".2f", "labelExpr": "round(datum.value*100) % 10 == 0 ? datum.label : ''"}},
    "color": {"field": "m", "type": "nominal", "scale": {"domain": ["True", "FGS-Net", "FS-Net", "FS"], "range": ["#000000", "#DF536B", "#61D04F", "#2297E6"]}, "legend": {"title": null, "orient": "none", "legendX": 71, "legendY": -103, "columns": 4, "gridAlign": "all", "columnPadding": 14.6, "symbolType": "M-0.62,0H7.38", "symbolSize": 248, "symbolStrokeWidth": 2, "labelFontSize": 16.5, "labelOffset": 64.25, "padding": 11, "strokeColor": "#000000", "labelExpr": "datum.label == 'FS' ? 'FS\u00a0\u00a0\u00a0\u00a0\u00a0\u00a0\u00a0\u00a0\u00a0\u00a0\u00a0\u00a0\u00a0\u00a0\u00a0\u00a0\u00a0\u00a0\u00a0\u2009\u200b' : datum.label"}}}}
 ]},
{"title": {"text": "Cluster 3", "offset": 1}, "width": 297, "height": 160,
 "transform": [{"filter": "datum.c == 3 && datum.m == 'FS'"}],
 "encoding": {"x": {"field": "t", "type": "quantitative", "scale": {"domain": [-0.034, 1.04], "nice": false, "zero": false}, "axis": {"title": "t", "values": [0, 0.2, 0.4, 0.6, 0.8, 1], "format": ".1f"}}},
 "layer": [
  {"mark": {"type": "area", "color": "#2297E6", "opacity": 0.2, "interpolate": "monotone"},
   "encoding": {"y": {"field": "lo", "type": "quantitative", "scale": {"domain": [-0.147, 0.06], "nice": false, "zero": false}, "axis": {"title": "Value", "values": [-0.1, -0.05, 0, 0.05], "format": ".2f", "labelExpr": "round(datum.value*100) % 10 == 0 ? datum.label : ''"}}, "y2": {"field": "hi"}}},
  {"mark": {"type": "line", "strokeWidth": 2, "interpolate": "monotone"},
   "encoding": {"y": {"field": "tr", "type": "quantitative", "scale": {"domain": [-0.147, 0.06], "nice": false, "zero": false}, "axis": {"title": "Value", "values": [-0.1, -0.05, 0, 0.05], "format": ".2f", "labelExpr": "round(datum.value*100) % 10 == 0 ? datum.label : ''"}},
    "color": {"datum": "True", "type": "nominal", "scale": {"domain": ["True", "FGS-Net", "FS-Net", "FS"], "range": ["#000000", "#DF536B", "#61D04F", "#2297E6"]}, "legend": {"title": null, "orient": "none", "legendX": 71, "legendY": -103, "columns": 4, "gridAlign": "all", "columnPadding": 14.6, "symbolType": "M-0.62,0H7.38", "symbolSize": 248, "symbolStrokeWidth": 2, "labelFontSize": 16.5, "labelOffset": 64.25, "padding": 11, "strokeColor": "#000000", "labelExpr": "datum.label == 'FS' ? 'FS\u00a0\u00a0\u00a0\u00a0\u00a0\u00a0\u00a0\u00a0\u00a0\u00a0\u00a0\u00a0\u00a0\u00a0\u00a0\u00a0\u00a0\u00a0\u00a0\u2009\u200b' : datum.label"}}}},
  {"mark": {"type": "line", "strokeWidth": 2, "interpolate": "monotone"},
   "encoding": {"y": {"field": "e", "type": "quantitative", "scale": {"domain": [-0.147, 0.06], "nice": false, "zero": false}, "axis": {"title": "Value", "values": [-0.1, -0.05, 0, 0.05], "format": ".2f", "labelExpr": "round(datum.value*100) % 10 == 0 ? datum.label : ''"}},
    "color": {"field": "m", "type": "nominal", "scale": {"domain": ["True", "FGS-Net", "FS-Net", "FS"], "range": ["#000000", "#DF536B", "#61D04F", "#2297E6"]}, "legend": {"title": null, "orient": "none", "legendX": 71, "legendY": -103, "columns": 4, "gridAlign": "all", "columnPadding": 14.6, "symbolType": "M-0.62,0H7.38", "symbolSize": 248, "symbolStrokeWidth": 2, "labelFontSize": 16.5, "labelOffset": 64.25, "padding": 11, "strokeColor": "#000000", "labelExpr": "datum.label == 'FS' ? 'FS\u00a0\u00a0\u00a0\u00a0\u00a0\u00a0\u00a0\u00a0\u00a0\u00a0\u00a0\u00a0\u00a0\u00a0\u00a0\u00a0\u00a0\u00a0\u00a0\u2009\u200b' : datum.label"}}}}
 ]}
],
"config": {
 "font": "Liberation Sans",
 "view": {"stroke": "#000000", "strokeWidth": 1},
 "axis": {"grid": false, "domain": false, "tickColor": "#000000", "tickSize": 6, "tickWidth": 1, "labelColor": "#000000", "labelFont": "Liberation Sans", "labelFontSize": 15, "labelOverlap": false, "labelFlush": false, "titleColor": "#000000", "titleFont": "Liberation Sans", "titleFontSize": 18.5, "titleFontWeight": "normal"},
 "axisX": {"labelPadding": -4, "titlePadding": -7, "titleFontStyle": "italic"},
 "axisY": {"labelAngle": -90, "labelAlign": "center", "labelBaseline": "bottom", "labelPadding": -1, "titlePadding": -3},
 "title": {"font": "Liberation Sans", "fontSize": 20.5, "fontWeight": "bold", "color": "#000000", "anchor": "middle", "frame": "group", "offset": 2},
 "legend": {"labelFont": "Liberation Sans", "labelColor": "#000000"}
}
}
